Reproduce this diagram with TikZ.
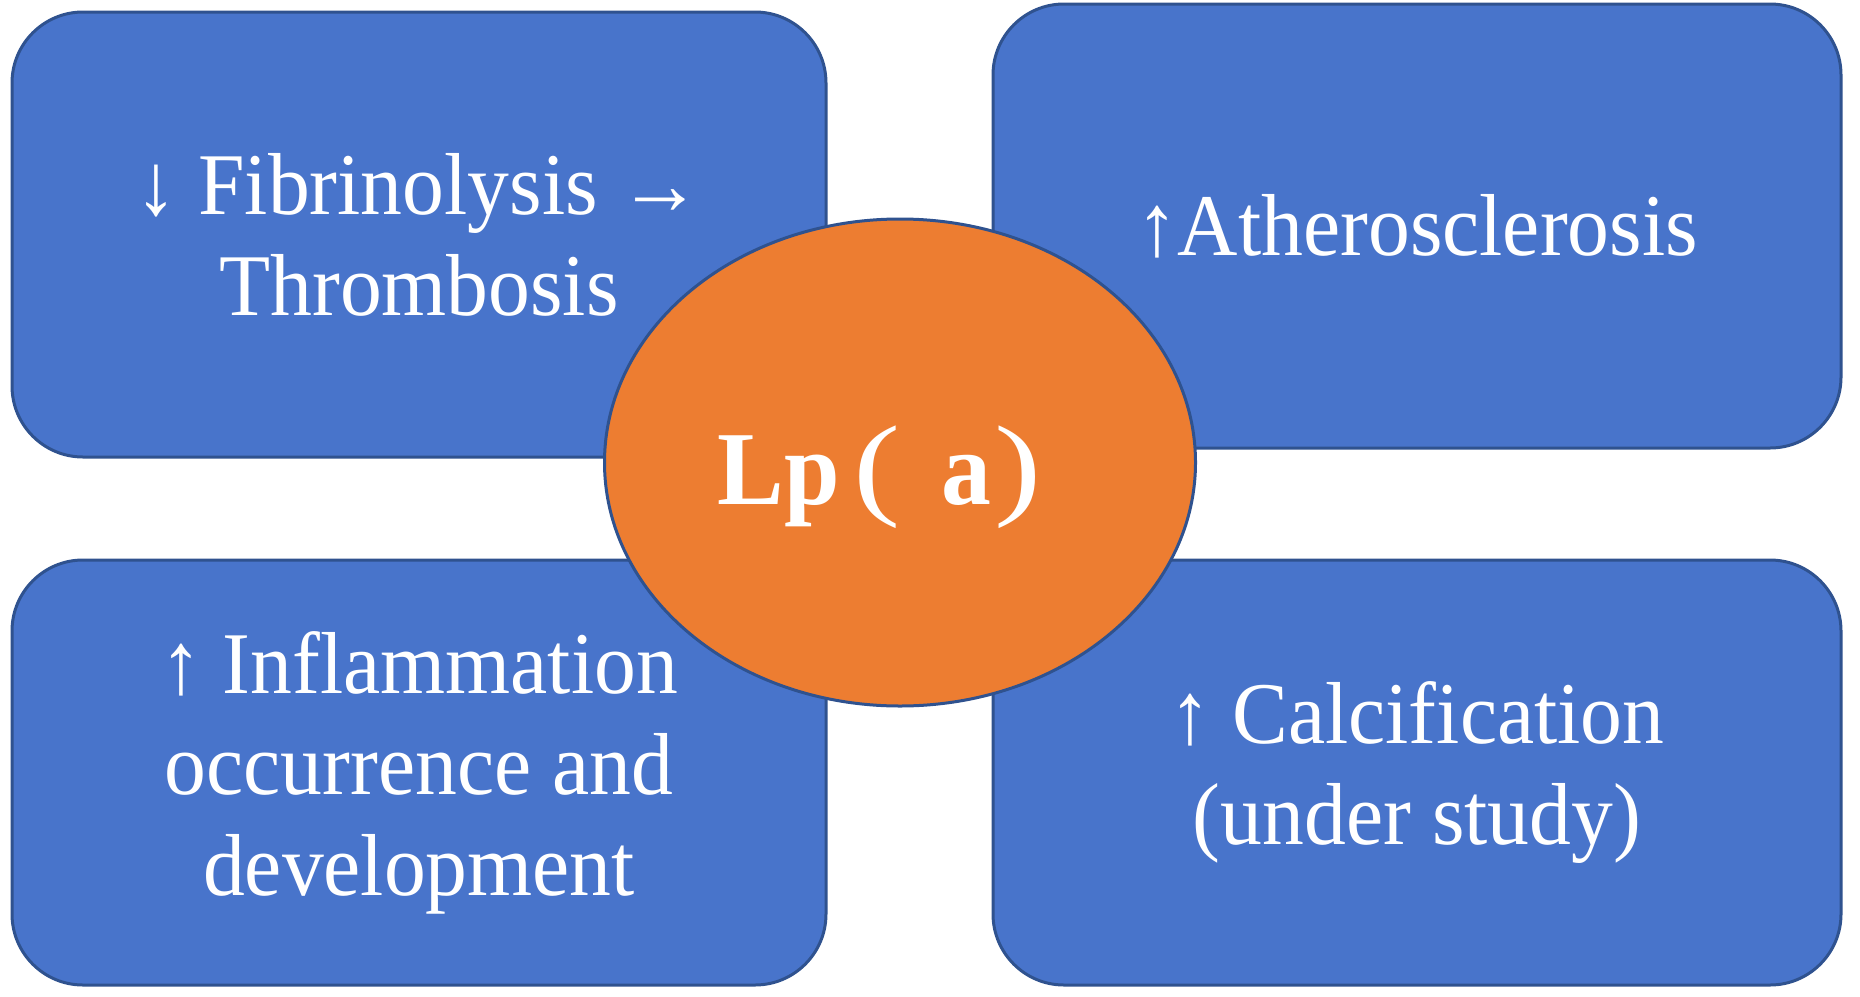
\documentclass[tikz,border=0pt]{standalone}
\usepackage{graphicx}
\usepackage{fontspec}
\setmainfont{Liberation Serif}[FakeStretch=0.95]
\newfontfamily\parenfont{Liberation Serif}
\usetikzlibrary{shapes.geometric}
\definecolor{boxfill}{HTML}{4874CB}
\definecolor{boxline}{HTML}{2F528F}
\definecolor{orangefill}{HTML}{ED7D31}
\newcommand{\widparen}[1]{\scalebox{1.35}[1.08]{\parenfont\mdseries #1}}
\tikzset{
  bluebox/.style={draw=boxline, fill=boxfill, line width=3pt, rounded corners=71pt,
    rectangle, inner sep=0pt, text=white, align=center,
    font=\fontsize{88}{101}\selectfont},
  centre/.style={draw=boxline, fill=orangefill, line width=3pt, ellipse,
    inner sep=0pt, text=white, font=\fontsize{105}{120}\selectfont,
    text height=100pt, text depth=17pt}
}
\begin{document}
\begin{tikzpicture}[x=1pt,y=-1pt]
\useasboundingbox (0,0) rectangle (1860,996);
\node[bluebox, minimum width=814pt, minimum height=445pt] (tl) at (419,234.5)
  {↓ Fibrinolysis →\\Thrombosis};
\node[bluebox, minimum width=848pt, minimum height=444pt] (tr) at (1417,226)
  {↑Atherosclerosis};
\node[bluebox, minimum width=814pt, minimum height=425pt] (bl) at (419,772.5)
  {↑ Inflammation\\occurrence and\\development};
\node[bluebox, minimum width=848pt, minimum height=425pt] (br) at (1417,772.5)
  {↑ Calcification\\(under study)};
\node[centre, minimum width=591pt, minimum height=487pt] (lp) at (900,462.5)
  {\textbf{Lp}\kern14pt\widparen{(}\kern40pt\textbf{a}\kern4pt\widparen{)}\kern40pt\null};
\end{tikzpicture}
\end{document}
